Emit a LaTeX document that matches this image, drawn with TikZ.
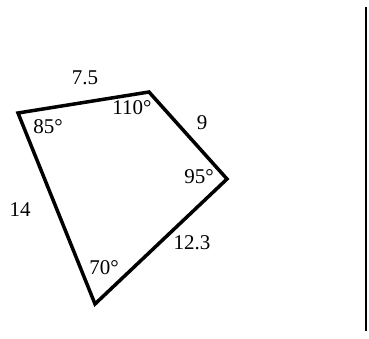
\documentclass[tikz,border=0pt]{standalone}
\usepackage{fontspec}
\setmainfont{Liberation Serif}
\usepackage{tikz}
\usetikzlibrary{positioning}

\begin{document}
\begin{tikzpicture}[
        x=1pt, y=-1pt,
        edge/.style={draw, line width=3.5pt, line join=miter},
        lbl/.style={font=\fontsize{21}{24}\selectfont, inner sep=0pt},
        rule/.style={draw, line width=2.8pt}
    ]
    \useasboundingbox (0,0) rectangle (369,339);
    % corners of the quadrilateral
    \coordinate (A) at (18,113);
    \coordinate (B) at (149,92);
    \coordinate (C) at (227,179);
    \coordinate (D) at (95,304);
    \draw[edge] (A) -- (B) -- (C) -- (D) -- cycle;

    % side lengths
    \node (sAB) [lbl] at (85,78) {7.5};
    \node (sBC) [lbl] at (202,123) {9};
    \node (sCD) [lbl] at (192,243) {12.3};
    \node (sDA) [lbl] at (20,210) {14};

    % angles
    \node (aA) [lbl] at (48,127) {85°};
    \node (aB) [lbl] at (132,108) {110°};
    \node (aC) [lbl] at (199,177) {95°};
    \node (aD) [lbl] at (104,268) {70°};

    % rule on the right
    \coordinate (top) at (366,7);
    \coordinate (bot) at (366,331);
    \draw[rule] (top) -- (bot);
\end{tikzpicture}
\end{document}
